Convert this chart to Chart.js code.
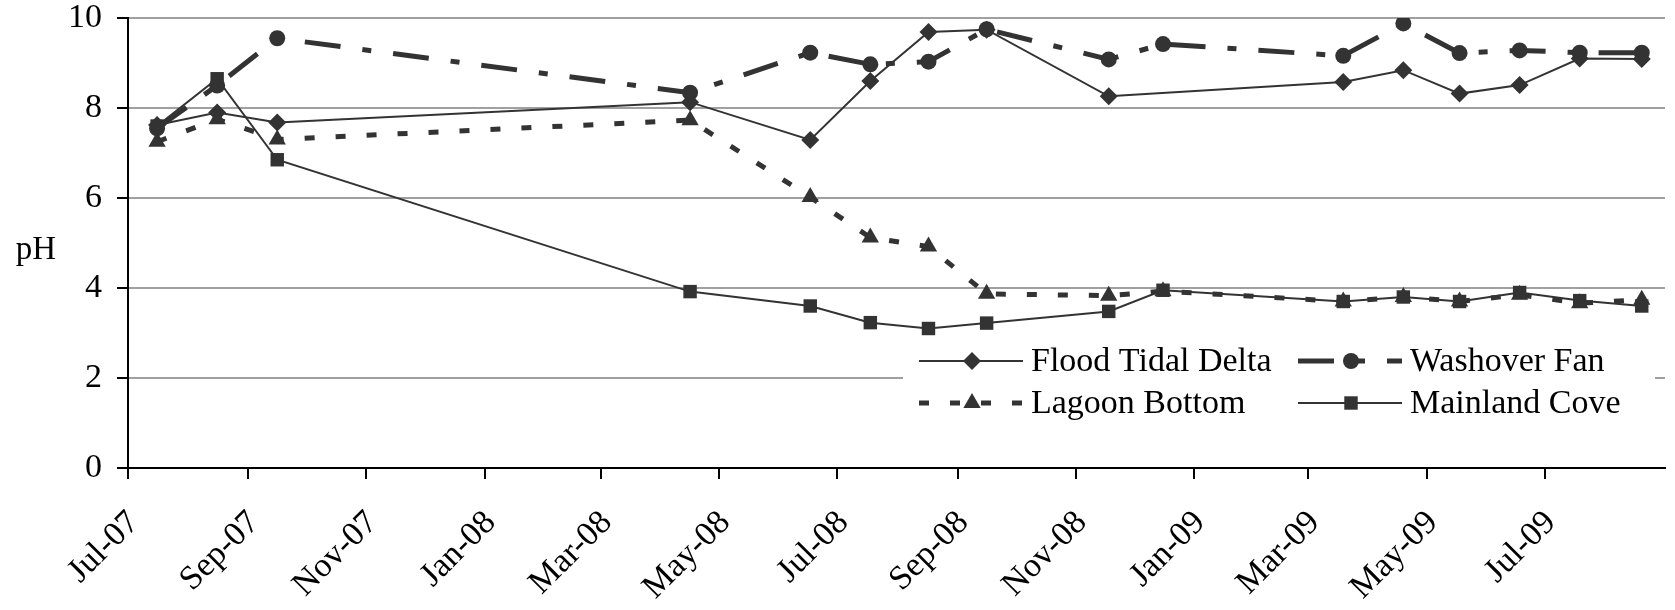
<!DOCTYPE html>
<html lang="en">
<head>
<meta charset="UTF-8" />
<title>pH</title>
<style>
  html, body { margin: 0; padding: 0; background: #fff; }
</style>
</head>
<body>
<canvas id="phChart" width="1675" height="610"></canvas>
<script src="https://cdn.jsdelivr.net/npm/chart.js"></script>
<script>
  // sampling dates (one per field trip)
  const sampleDates = [
    "2007-07-16", "2007-08-16", "2007-09-16", "2008-04-16",
    "2008-06-17", "2008-07-18", "2008-08-17", "2008-09-16",
    "2008-11-18", "2008-12-16", "2009-03-19", "2009-04-19",
    "2009-05-18", "2009-06-18", "2009-07-19", "2009-08-20"
  ];

  // pH per site (null = not sampled)
  const floodTidalDelta = [7.62, 7.9, 7.68, 8.13, 7.29, 8.6, 9.69, 9.74, 8.26, null, 8.58, 8.84, 8.32, 8.51, 9.1, 9.09];
  const washoverFan     = [7.55, 8.5, 9.55, 8.34, 9.23, 8.97, 9.03, 9.75, 9.08, 9.42, 9.16, 9.88, 9.22, 9.28, 9.23, 9.23];
  const lagoonBottom    = [7.25, 7.75, 7.3, 7.73, 6.02, 5.12, 4.92, 3.87, 3.83, 3.93, 3.7, 3.8, 3.7, 3.85, 3.66, 3.74];
  const mainlandCove    = [7.6, 8.65, 6.85, 3.92, 3.6, 3.23, 3.1, 3.22, 3.48, 3.95, 3.7, 3.8, 3.7, 3.9, 3.72, 3.6];

  // axis ticks
  const tickDates = [
    "2007-07-01", "2007-09-01", "2007-11-01", "2008-01-01", "2008-03-01", "2008-05-01", "2008-07-01",
    "2008-09-01", "2008-11-01", "2009-01-01", "2009-03-01", "2009-05-01", "2009-07-01"
  ];
  const tickLabels = ["Jul-07", "Sep-07", "Nov-07", "Jan-08", "Mar-08", "May-08", "Jul-08",
                      "Sep-08", "Nov-08", "Jan-09", "Mar-09", "May-09", "Jul-09"];
  const axisEnd = "2009-09-01";

  const origin = Date.UTC(2007, 6, 1);
  function toDays(s) {
    const p = s.split("-");
    return (Date.UTC(+p[0], +p[1] - 1, +p[2]) - origin) / 86400000;
  }
  function points(arr) {
    return sampleDates.map((d, i) => ({ x: toDays(d), y: arr[i] }));
  }

  const ink = "#333333";
  const serif = "'Liberation Serif', 'Times New Roman', serif";

  const series = [
    { label: "Flood Tidal Delta", data: floodTidalDelta, style: "rectRot", r: 9, width: 2, dash: [] },
    { label: "Washover Fan", data: washoverFan, style: "circle", r: 8, width: 5, dash: [36, 22, 9, 22] },
    { label: "Lagoon Bottom", data: lagoonBottom, style: "triangle", r: 10, width: 5, dash: [10, 21] },
    { label: "Mainland Cove", data: mainlandCove, style: "rect", r: 9.5, width: 2, dash: [] }
  ];

  function drawMarker(ctx, style, x, y, r) {
    ctx.beginPath();
    if (style === "rectRot") {
      ctx.moveTo(x, y - r); ctx.lineTo(x + r, y); ctx.lineTo(x, y + r); ctx.lineTo(x - r, y);
    } else if (style === "circle") {
      ctx.arc(x, y, r, 0, Math.PI * 2);
    } else if (style === "triangle") {
      ctx.moveTo(x, y - r); ctx.lineTo(x + r * 0.866, y + r * 0.5); ctx.lineTo(x - r * 0.866, y + r * 0.5);
    } else {
      const s = r * Math.SQRT1_2;
      ctx.rect(x - s, y - s, 2 * s, 2 * s);
    }
    ctx.closePath();
    ctx.fill();
  }

  // "pH" label, horizontal, left of the axis
  const yTitle = {
    id: "yTitle",
    afterDraw(chart) {
      const ctx = chart.ctx;
      ctx.save();
      ctx.font = "33px " + serif;
      ctx.fillStyle = "#000";
      ctx.textAlign = "center";
      ctx.textBaseline = "middle";
      ctx.fillText("pH", 36, 250);
      ctx.restore();
    }
  };

  // legend box inside the plot, two columns
  const boxLegend = {
    id: "boxLegend",
    afterDatasetsDraw(chart) {
      const ctx = chart.ctx;
      const slots = [
        { x: 919, y: 361 }, { x: 1298, y: 361 },
        { x: 919, y: 403 }, { x: 1298, y: 403 }
      ];
      ctx.save();
      ctx.fillStyle = "#fff";
      ctx.fillRect(903, 336, 752, 92);
      series.forEach((s, i) => {
        const p = slots[i];
        ctx.strokeStyle = ink;
        ctx.lineWidth = s.width;
        ctx.lineCap = "butt";
        ctx.setLineDash(s.dash);
        ctx.beginPath();
        ctx.moveTo(p.x, p.y);
        ctx.lineTo(p.x + 104, p.y);
        ctx.stroke();
        ctx.setLineDash([]);
        ctx.fillStyle = ink;
        drawMarker(ctx, s.style, p.x + 53, p.y, s.r);
        ctx.fillStyle = "#000";
        ctx.font = "34px " + serif;
        ctx.textAlign = "left";
        ctx.textBaseline = "middle";
        ctx.fillText(s.label, p.x + 112, p.y + 1);
      });
      ctx.restore();
    }
  };

  const ctx = document.getElementById("phChart").getContext("2d");
  new Chart(ctx, {
    type: "line",
    data: {
      datasets: series.map((s) => ({
        label: s.label,
        data: points(s.data),
        borderColor: ink,
        backgroundColor: ink,
        borderWidth: s.width,
        borderDash: s.dash,
        borderCapStyle: "butt",
        tension: 0,
        spanGaps: true,
        pointStyle: s.style,
        pointRadius: s.r,
        pointHoverRadius: s.r,
        pointBackgroundColor: ink,
        pointBorderColor: ink,
        pointBorderWidth: 0
      }))
    },
    options: {
      responsive: false,
      animation: false,
      layout: { padding: { top: 18, right: 0, left: 0, bottom: 0 } },
      plugins: {
        legend: { display: false },
        tooltip: { enabled: false }
      },
      scales: {
        x: {
          type: "linear",
          min: 0,
          max: toDays(axisEnd),
          afterBuildTicks: (scale) => {
            scale.ticks = tickDates.map((d) => ({ value: toDays(d) }));
          },
          afterFit: (scale) => { scale.height = 142; },
          grid: { drawOnChartArea: false, color: "#000", lineWidth: 2, tickLength: 11 },
          border: { color: "#000", width: 2 },
          ticks: {
            autoSkip: false,
            minRotation: 45,
            maxRotation: 45,
            padding: 24,
            labelOffset: 6,
            color: "#000",
            font: { family: serif, size: 34 },
            callback: (v, i) => tickLabels[i]
          }
        },
        y: {
          min: 0,
          max: 10,
          afterFit: (scale) => {
            scale.width = 128;
            scale.paddingTop = 0;
            scale.paddingBottom = 0;
          },
          grid: { color: "#a0a0a0", lineWidth: 2, tickColor: "#000", tickLength: 11 },
          border: { color: "#000", width: 2 },
          ticks: {
            stepSize: 2,
            padding: 15,
            color: "#000",
            font: { family: serif, size: 34, lineHeight: 1 }
          }
        }
      }
    },
    plugins: [yTitle, boxLegend]
  });
</script>
</body>
</html>
